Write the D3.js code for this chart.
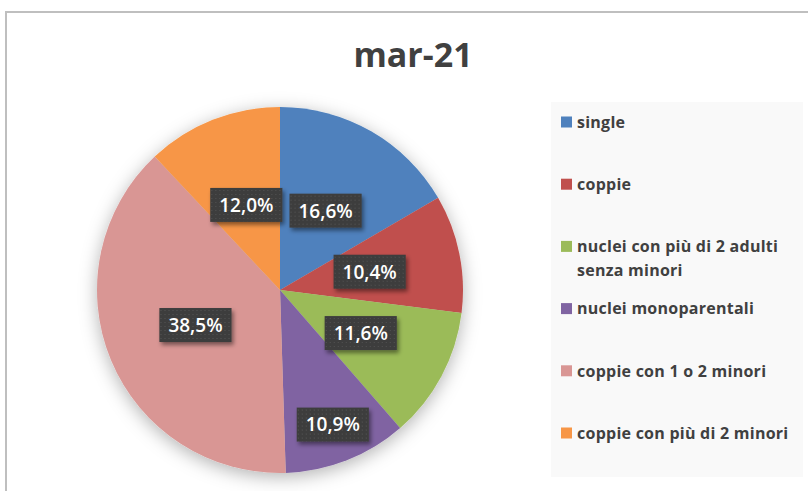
<!DOCTYPE html>
<html>
<head>
<meta charset="utf-8">
<script src="https://cdn.jsdelivr.net/npm/d3@7"></script>
<style>
  html, body { margin: 0; padding: 0; background: #fff; }
  svg { display: block; font-family: "Open Sans", "Liberation Sans", sans-serif; }
</style>
</head>
<body>
<div id="chart"></div>
<script>

// dati
const title = "mar-21";
const categories = ["single", "coppie", "nuclei con più di 2 adulti senza minori",
  "nuclei monoparentali", "coppie con 1 o 2 minori", "coppie con più di 2 minori"];
const values = [16.6, 10.4, 11.6, 10.9, 38.5, 12.0];
const colors = ["#4f81bd", "#c0504d", "#9bbb59", "#8064a2", "#d99694", "#f79646"];

function pieChart(element) {

  const width = 808, height = 491;
  const radius = 183;
  const cx = 280, cy = 290;

  const svg = d3.select(element)
    .append("svg")
    .attr("width", width)
    .attr("height", height);

  const defs = svg.append("defs");

  const pieShadow = defs.append("filter").attr("id", "pieShadow")
    .attr("x", "-20%").attr("y", "-20%").attr("width", "140%").attr("height", "140%");
  pieShadow.append("feDropShadow")
    .attr("dx", 0).attr("dy", 4).attr("stdDeviation", 9)
    .attr("flood-color", "#000").attr("flood-opacity", 0.3);

  const boxShadow = defs.append("filter").attr("id", "boxShadow")
    .attr("x", "-20%").attr("y", "-30%").attr("width", "150%").attr("height", "170%");
  boxShadow.append("feDropShadow")
    .attr("dx", 2).attr("dy", 3).attr("stdDeviation", 2)
    .attr("flood-color", "#000").attr("flood-opacity", 0.45);

  const dots = defs.append("pattern").attr("id", "dots")
    .attr("width", 4).attr("height", 4).attr("patternUnits", "userSpaceOnUse");
  dots.append("rect").attr("width", 4).attr("height", 4).attr("fill", "#3d3d3d");
  dots.append("rect").attr("x", 1).attr("y", 1).attr("width", 1).attr("height", 1).attr("fill", "#555");

  // cornice
  svg.append("rect")
    .attr("x", 6).attr("y", 12)
    .attr("width", width + 20).attr("height", height + 20)
    .attr("fill", "#fff")
    .attr("stroke", "#bfbfbf")
    .attr("stroke-width", 2);

  svg.append("text")
    .attr("x", 413).attr("y", 67)
    .attr("text-anchor", "middle")
    .attr("font-size", 34)
    .attr("font-weight", 700)
    .attr("fill", "#404040")
    .text(title);

  const pie = d3.pie().sort(null).value(function (d) { return d; });
  const arcs = pie(values);

  const arc = d3.arc().innerRadius(0).outerRadius(radius);

  const g = svg.append("g")
    .attr("transform", "translate(" + cx + "," + cy + ")");

  g.append("g")
    .attr("filter", "url(#pieShadow)")
    .selectAll("path")
    .data(arcs)
    .enter()
    .append("path")
    .attr("d", arc)
    .attr("fill", function (d, i) { return colors[i]; });

  // etichette: al centro della fetta, quella viola spostata verso l'esterno
  function labelRadius(i) {
    return i === 3 ? radius * 0.79 : radius * 0.5;
  }
  const fmt = d3.format(".1f");

  const labels = g.selectAll(".label")
    .data(arcs)
    .enter()
    .append("g")
    .attr("class", "label")
    .attr("transform", function (d, i) {
      const r = labelRadius(i);
      const p = d3.arc().innerRadius(r).outerRadius(r).centroid(d);
      return "translate(" + p[0] + "," + p[1] + ")";
    });

  labels.append("rect")
    .attr("filter", "url(#boxShadow)")
    .attr("fill", "url(#dots)");

  labels.append("text")
    .attr("text-anchor", "middle")
    .attr("dy", "0.36em")
    .attr("font-size", 19)
    .attr("font-weight", 600)
    .attr("fill", "#fff")
    .text(function (d) { return fmt(d.data).replace(".", ",") + "%"; });

  labels.each(function () {
    const sel = d3.select(this);
    const w = sel.select("text").node().getComputedTextLength() + 18;
    const h = 34;
    sel.select("rect")
      .attr("x", -w / 2).attr("y", -h / 2)
      .attr("width", w).attr("height", h);
  });

  // legenda
  const legend = svg.append("g");
  legend.append("rect")
    .attr("x", 551).attr("y", 102)
    .attr("width", 252).attr("height", 375)
    .attr("fill", "#f9f9f9");

  const legendY = d3.scalePoint()
    .domain(categories)
    .range([122, 433]);

  const item = legend.selectAll(".item")
    .data(categories)
    .enter()
    .append("g")
    .attr("class", "item")
    .attr("transform", function (d) { return "translate(561," + legendY(d) + ")"; });

  item.append("rect")
    .attr("x", 0).attr("y", -5.5)
    .attr("width", 11).attr("height", 11)
    .attr("fill", function (d, i) { return colors[i]; });

  const maxW = 222;
  item.each(function (d) {
    const sel = d3.select(this);
    const text = sel.append("text")
      .attr("x", 16)
      .attr("font-size", 16)
      .attr("font-weight", 700)
      .attr("letter-spacing", 0.25)
      .attr("fill", "#404040");
    const words = d.split(" ");
    let line = [];
    let lineNo = 0;
    let tspan = text.append("tspan").attr("x", 16).attr("y", 0).attr("dy", "0.36em");
    words.forEach(function (w) {
      line.push(w);
      tspan.text(line.join(" "));
      if (tspan.node().getComputedTextLength() > maxW && line.length > 1) {
        line.pop();
        tspan.text(line.join(" "));
        line = [w];
        lineNo++;
        tspan = text.append("tspan").attr("x", 16).attr("y", lineNo * 24).attr("dy", "0.36em").text(w);
      }
    });
  });
}

pieChart("#chart");
</script>
</body>
</html>
